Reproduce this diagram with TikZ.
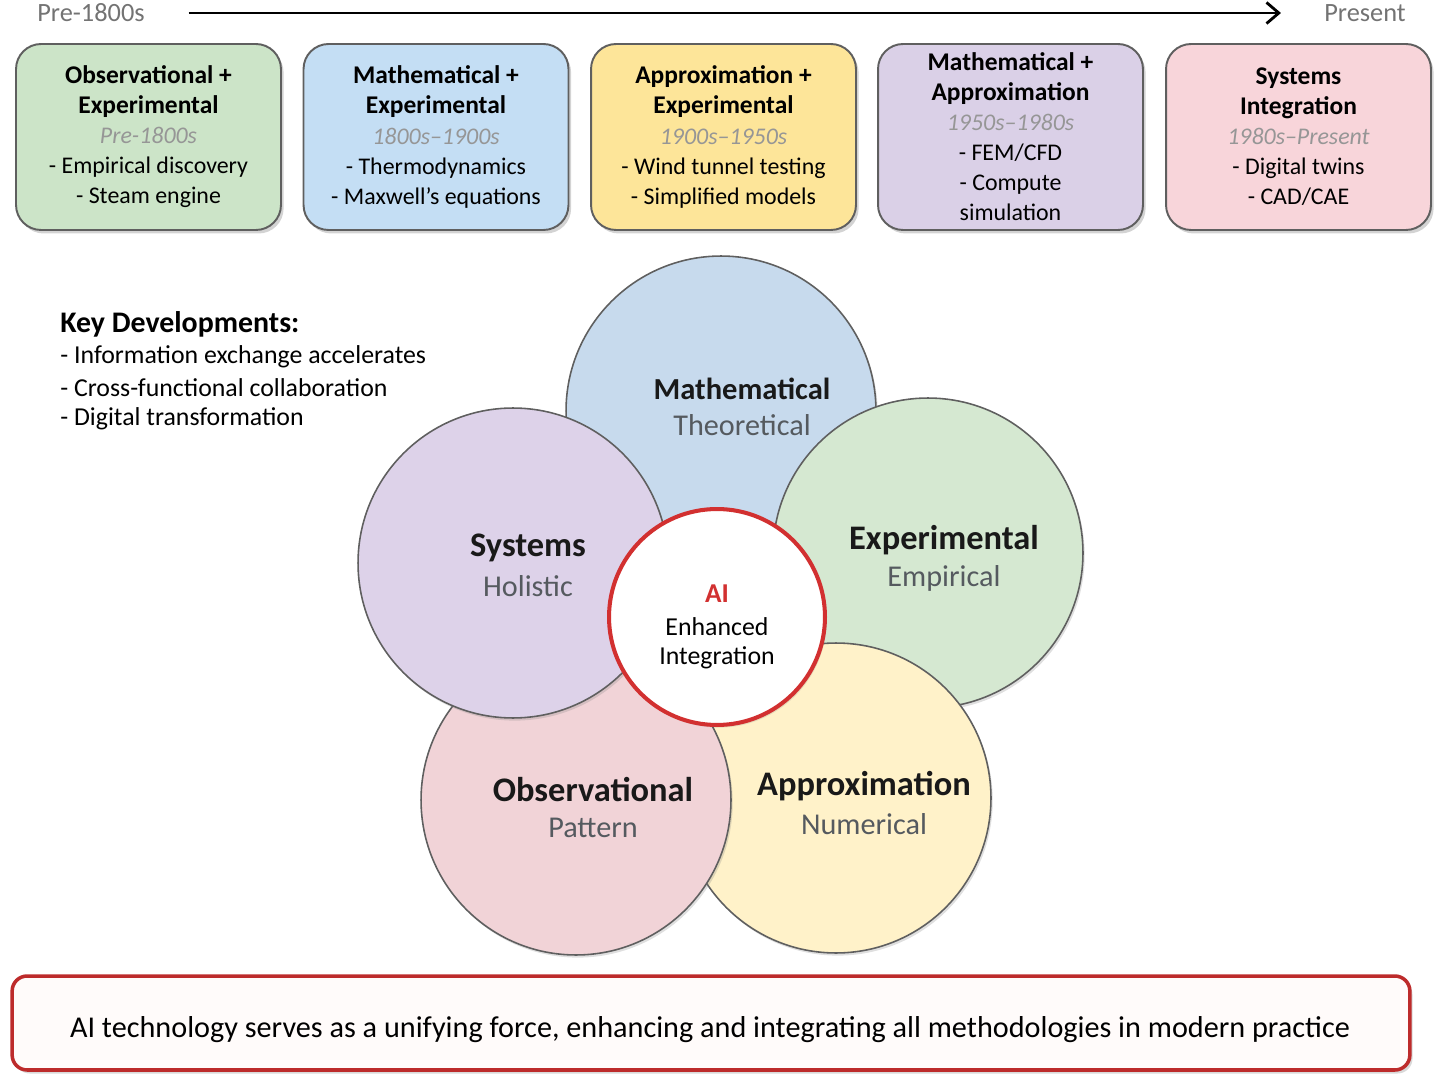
\documentclass[tikz,border=0pt]{standalone}
\usepackage{fontspec}
\setmainfont{Carlito}
\usetikzlibrary{calc, shapes, arrows.meta, shadows}
\usepackage{xcolor}

\definecolor{boxline}{RGB}{95,95,95}
\definecolor{eragreen}{RGB}{204,228,200}
\definecolor{erablue}{RGB}{196,222,244}
\definecolor{erayellow}{RGB}{253,229,153}
\definecolor{erapurple}{RGB}{218,208,231}
\definecolor{erapink}{RGB}{248,213,218}
\definecolor{circblue}{RGB}{199,218,237}
\definecolor{circgreen}{RGB}{213,232,209}
\definecolor{circyellow}{RGB}{255,242,201}
\definecolor{circpink}{RGB}{241,211,215}
\definecolor{circpurple}{RGB}{221,210,233}
\definecolor{aired}{RGB}{210,48,48}
\definecolor{notefill}{RGB}{255,251,250}
\definecolor{yeargray}{RGB}{150,150,150}
\definecolor{subgray}{RGB}{85,90,95}

\begin{document}
\begin{tikzpicture}[x=0.02cm, y=-0.02cm,
	erabox/.style={draw=boxline, line width=1.1pt, rounded corners=0.5cm,
		minimum width=5.3cm, minimum height=3.72cm, align=center,
		font=\fontsize{13.6}{17.1}\selectfont,
		drop shadow={opacity=0.35, shadow xshift=1.5pt, shadow yshift=-2pt}},
	circ/.style={circle, draw=boxline, line width=0.9pt, minimum size=6.2cm,
		drop shadow={opacity=0.25, shadow xshift=1pt, shadow yshift=-1.5pt}},
	circtitle/.style={font=\fontsize{19.6}{22}\selectfont\bfseries, text=black!90},
	circsub/.style={font=\fontsize{17.2}{20}\selectfont, text=subgray},
	tllabel/.style={font=\fontsize{15}{18}\selectfont, text=black!55, inner sep=0pt},
	keytext/.style={font=\fontsize{14.7}{17}\selectfont, anchor=west, inner sep=0pt}]
	\newcommand{\myfonthead}[1]{%
		{\fontsize{14.5}{17.1}\selectfont\bfseries #1}%
	}\newcommand{\myfontyear}[1]{%
		{\color{yeargray}\itshape #1}%
	}%Page frame
	\useasboundingbox (0,0) rectangle (1440,1084);
	%Timeline on top
	\node [tllabel] (pre) at (91,13) {Pre-1800s};
	\node [tllabel] (present) at (1365,13) {Present};
	\draw [line width=1.6pt, -{Straight Barb[length=7pt, width=12pt, line width=1.6pt]},
		shorten <=0.87cm, shorten >=0.86cm] (pre.east) -- (present.west);
	%Era boxes
	\node [erabox, fill=eragreen] (era1) at (148.5,137) {\myfonthead{Observational +}\\\myfonthead{Experimental}\\\myfontyear{Pre-1800s}\\- Empirical discovery\\- Steam engine};
	\node [erabox, fill=erablue] (era2) at (436,137) {\myfonthead{Mathematical +}\\\myfonthead{Experimental}\\\myfontyear{1800s–1900s}\\- Thermodynamics\\- Maxwell's equations};
	\node [erabox, fill=erayellow] (era3) at (723.5,137) {\myfonthead{Approximation +}\\\myfonthead{Experimental}\\\myfontyear{1900s–1950s}\\- Wind tunnel testing\\- Simplified models};
	\node [erabox, fill=erapurple] (era4) at (1010.5,137) {\myfonthead{Mathematical +}\\\myfonthead{Approximation}\\\myfontyear{1950s–1980s}\\- FEM/CFD\\- Compute\\simulation};
	\node [erabox, fill=erapink] (era5) at (1298.5,137) {\myfonthead{Systems}\\\myfonthead{Integration}\\\myfontyear{1980s–Present}\\- Digital twins\\- CAD/CAE};
	%Key developments
	\node [keytext, font=\fontsize{17}{19}\selectfont\bfseries] (keyhead) at (60,324) {Key Developments:};
	\node [keytext] (key1) at (60,357) {- Information exchange accelerates};
	\node [keytext] (key2) at (60,388) {- Cross-functional collaboration};
	\node [keytext] (key3) at (60,419) {- Digital transformation};
	%Methodology circles, clockwise from the top
	\node [circ, fill=circblue] (math) at (721,411) {};
	\node [circ, fill=circgreen] (expe) at (928,553) {};
	\node [circ, fill=circyellow] (appr) at (836,798) {};
	\node [circ, fill=circpink] (obse) at (576,800) {};
	\node [circ, fill=circpurple] (syst) at (513,563) {};
	%AI in the middle
	\node [circle, draw=aired, line width=2.3pt, fill=white, minimum size=4.32cm,
		drop shadow={opacity=0.2, shadow xshift=1pt, shadow yshift=-1.5pt}] (ai) at (717,617) {};
	\node [font=\fontsize{15.5}{18}\selectfont\bfseries, text=aired] (aiT) at (717,594) {AI};
	\node [font=\fontsize{14.7}{17}\selectfont] (aiA) at (717,627) {Enhanced};
	\node [font=\fontsize{14.7}{17}\selectfont] (aiB) at (717,658) {Integration};
	%Circle labels
	\node [circtitle, font=\fontsize{17.4}{20}\selectfont\bfseries] (mathT) at (742,389) {Mathematical};
	\node [circsub] (mathS) at (742,425) {Theoretical};
	\node [circtitle] (expeT) at (944,540) {Experimental};
	\node [circsub] (expeS) at (944,578) {Empirical};
	\node [circtitle] (apprT) at (864,786) {Approximation};
	\node [circsub] (apprS) at (864,824) {Numerical};
	\node [circtitle] (obseT) at (593,790) {Observational};
	\node [circsub] (obseS) at (593,828) {Pattern};
	\node [circtitle] (systT) at (528,548) {Systems};
	\node [circsub] (systS) at (528,586) {Holistic};
	%Bottom note
	\node [draw=aired!90!black, line width=2pt, fill=notefill, rounded corners=0.3cm,
		minimum width=27.96cm, minimum height=1.88cm,
		drop shadow={opacity=0.3, shadow xshift=1.5pt, shadow yshift=-2pt}] (note) at (711,1023) {};
	\node [font=\fontsize{17.2}{20}\selectfont] (noteT) at (710,1030) {AI technology serves as a unifying force, enhancing and integrating all methodologies in modern practice};
\end{tikzpicture}
\end{document}
